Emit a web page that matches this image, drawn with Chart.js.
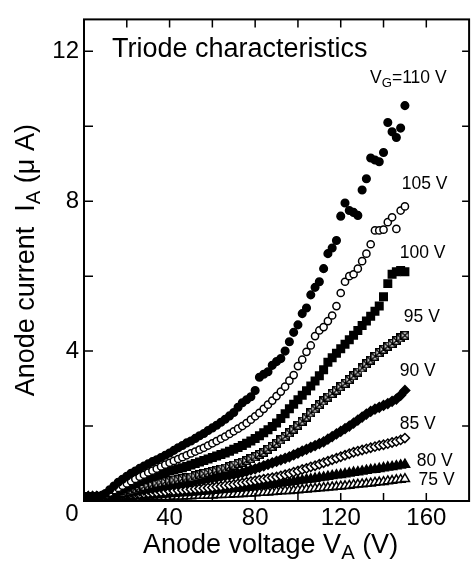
<!DOCTYPE html>
<html><head>
<meta charset="UTF-8">
<title>Triode characteristics</title>
<script src="https://cdn.jsdelivr.net/npm/chart.js@4"></script>
<style>
html, body { margin: 0; padding: 0; background: #fff; }
</style></head><body>
<canvas id="chart" width="476" height="564"></canvas>
<script>
// anode voltage V_A (V), shared by every grid-voltage curve
const anodeV = [2,4,6,8,10,12,14,16,18,20,22,24,26,28,30,32,34,36,38,40,42,44,46,48,50,52,54,56,58,60,62,64,66,68,70,72,74,76,78,80,82,84,86,88,90,92,94,96,98,100,102,104,106,108,110,112,114,116,118,120,122,124,126,128,130,132,134,136,138,140,142,144,146,148,150];

// anode current I_A (uA) per grid voltage
const ia110 = [0.12,0.12,0.13,0.14,0.2,0.3,0.4,0.5,0.58,0.66,0.74,0.8,0.87,0.93,0.99,1.05,1.1,1.16,1.22,1.28,1.35,1.42,1.48,1.55,1.6,1.67,1.74,1.8,1.88,1.95,2.02,2.1,2.18,2.27,2.36,2.5,2.62,2.7,2.78,2.95,3.3,3.38,3.45,3.62,3.72,3.8,4.0,4.25,4.5,4.7,5.0,5.15,5.5,5.7,5.85,6.2,6.6,6.75,6.95,7.6,7.95,7.75,7.7,7.62,8.3,8.6,9.15,9.1,9.05,9.3,10.1,9.85,9.7,9.95,10.55];
const ia105 = [0.12,0.12,0.12,0.13,0.16,0.22,0.29,0.35,0.41,0.47,0.53,0.59,0.65,0.7,0.76,0.81,0.86,0.92,0.97,1.02,1.07,1.12,1.17,1.22,1.27,1.32,1.37,1.42,1.48,1.54,1.6,1.66,1.72,1.79,1.86,1.93,2.0,2.08,2.17,2.26,2.35,2.46,2.57,2.68,2.8,2.92,3.05,3.21,3.36,3.6,3.77,3.98,4.15,4.4,4.55,4.64,4.8,4.95,5.2,5.55,5.85,6.0,6.05,6.2,6.4,6.6,6.85,7.22,7.22,7.24,7.44,7.57,7.26,7.75,7.86];
const ia100 = [0.12,0.12,0.12,0.12,0.14,0.18,0.22,0.27,0.32,0.37,0.42,0.47,0.52,0.57,0.61,0.65,0.69,0.73,0.77,0.8,0.83,0.86,0.89,0.92,0.96,1.0,1.04,1.08,1.12,1.16,1.2,1.24,1.28,1.33,1.38,1.43,1.48,1.54,1.6,1.67,1.74,1.82,1.9,1.99,2.08,2.2,2.33,2.46,2.58,2.7,2.82,2.94,3.07,3.2,3.34,3.5,3.7,3.82,3.94,4.06,4.18,4.3,4.42,4.55,4.68,4.8,4.93,5.06,5.2,5.45,5.8,6.05,6.12,6.15,6.12];
const ia95 = [0.12,0.12,0.12,0.12,0.13,0.15,0.18,0.21,0.24,0.27,0.3,0.33,0.36,0.39,0.42,0.45,0.48,0.5,0.52,0.54,0.56,0.58,0.6,0.62,0.64,0.67,0.7,0.73,0.76,0.79,0.82,0.85,0.88,0.92,0.96,1.0,1.04,1.08,1.13,1.18,1.24,1.3,1.38,1.46,1.54,1.63,1.72,1.82,1.92,2.02,2.13,2.24,2.35,2.46,2.57,2.67,2.77,2.87,2.96,3.05,3.14,3.24,3.34,3.44,3.55,3.66,3.76,3.86,3.96,4.05,4.13,4.2,4.28,4.35,4.42];
const ia90 = [0.12,0.12,0.12,0.12,0.12,0.13,0.15,0.17,0.19,0.21,0.23,0.25,0.27,0.29,0.31,0.33,0.35,0.37,0.39,0.41,0.43,0.45,0.47,0.49,0.51,0.53,0.55,0.57,0.59,0.61,0.63,0.65,0.67,0.69,0.71,0.73,0.76,0.79,0.83,0.86,0.9,0.94,0.98,1.02,1.06,1.1,1.14,1.18,1.23,1.28,1.33,1.38,1.43,1.48,1.53,1.58,1.65,1.72,1.79,1.86,1.93,2.0,2.08,2.16,2.24,2.32,2.39,2.45,2.5,2.55,2.6,2.66,2.72,2.82,2.95];
const ia85 = [0.12,0.12,0.12,0.12,0.12,0.12,0.13,0.14,0.15,0.16,0.17,0.18,0.19,0.2,0.21,0.22,0.23,0.24,0.25,0.26,0.27,0.28,0.29,0.3,0.31,0.32,0.33,0.34,0.35,0.36,0.38,0.39,0.41,0.42,0.44,0.46,0.48,0.5,0.52,0.54,0.56,0.58,0.6,0.62,0.64,0.67,0.7,0.73,0.77,0.8,0.84,0.87,0.91,0.94,0.98,1.02,1.06,1.1,1.14,1.18,1.22,1.26,1.3,1.33,1.36,1.39,1.42,1.45,1.48,1.5,1.53,1.56,1.59,1.63,1.68];
const ia80 = [0.1,0.1,0.1,0.1,0.1,0.1,0.1,0.11,0.11,0.12,0.12,0.13,0.13,0.14,0.15,0.15,0.16,0.17,0.18,0.19,0.2,0.21,0.22,0.22,0.23,0.24,0.25,0.26,0.27,0.28,0.29,0.3,0.31,0.32,0.33,0.34,0.35,0.36,0.37,0.39,0.4,0.41,0.43,0.44,0.46,0.47,0.49,0.5,0.52,0.54,0.55,0.57,0.58,0.6,0.62,0.63,0.65,0.67,0.69,0.7,0.72,0.74,0.76,0.77,0.79,0.81,0.83,0.84,0.86,0.88,0.9,0.91,0.93,0.95,0.97];
const ia75 = [0.08,0.08,0.08,0.08,0.08,0.08,0.08,0.08,0.08,0.09,0.09,0.09,0.09,0.1,0.1,0.1,0.1,0.11,0.11,0.11,0.12,0.12,0.12,0.13,0.13,0.14,0.14,0.14,0.15,0.15,0.16,0.16,0.17,0.17,0.18,0.18,0.19,0.2,0.2,0.21,0.22,0.22,0.23,0.24,0.25,0.26,0.27,0.27,0.28,0.29,0.3,0.31,0.32,0.33,0.34,0.35,0.36,0.37,0.38,0.39,0.4,0.41,0.43,0.44,0.45,0.46,0.47,0.49,0.5,0.51,0.53,0.54,0.56,0.57,0.59];

const gridVolts = ['110', '105', '100', '95', '90', '85', '80', '75'];
const currents = [ia110, ia105, ia100, ia95, ia90, ia85, ia80, ia75];

const xMajor = [40, 80, 120, 160];
const xMinor = [20, 60, 100, 140];
const yMajor = [4, 8, 12];
const yMinor = [2, 6, 10];

const FONT = "'Liberation Sans', Arial, Helvetica, sans-serif";

// open square with a cross inside
function crossBox(size) {
  const c = document.createElement('canvas');
  c.width = c.height = size;
  const g = c.getContext('2d');
  g.fillStyle = '#fff';
  g.fillRect(0, 0, size, size);
  g.strokeStyle = '#000';
  g.lineWidth = 1.5;
  g.strokeRect(0.75, 0.75, size - 1.5, size - 1.5);
  g.beginPath();
  g.moveTo(0, 0); g.lineTo(size, size);
  g.moveTo(size, 0); g.lineTo(0, size);
  g.stroke();
  return c;
}

const markers = [
  { style: 'circle', r: 3.8, fill: '#000' },
  { style: 'circle', r: 3.6, fill: '#fff' },
  { style: 'rect', r: 5.3, fill: '#000' },
  { style: crossBox(9), r: 4.5, fill: '#fff' },
  { style: 'rectRot', r: 4.8, fill: '#000' },
  { style: 'rectRot', r: 4.6, fill: '#fff' },
  { style: 'triangle', r: 5.4, fill: '#000' },
  { style: 'triangle', r: 5.2, fill: '#fff' }
];

// curve labels, anchored in data units (left edge, baseline)
const curveLabels = [
  { x: 133.7, y: 11.15, parts: [['V'], ['G', 1], ['=110 V']] },
  { x: 148.5, y: 8.33, parts: [['105 V']] },
  { x: 147.6, y: 6.48, parts: [['100 V']] },
  { x: 149.5, y: 4.78, parts: [['95 V']] },
  { x: 147.6, y: 3.34, parts: [['90 V']] },
  { x: 147.6, y: 1.91, parts: [['85 V']] },
  { x: 155.5, y: 0.94, parts: [['80 V']] },
  { x: 156.4, y: 0.42, parts: [['75 V']] }
];

function richWidth(ctx, parts, size) {
  let w = 0;
  for (const [t, sub] of parts) {
    ctx.font = (sub ? size * 0.75 : size) + 'px ' + FONT;
    w += ctx.measureText(t).width;
  }
  return w;
}

function drawRich(ctx, parts, x, y, size) {
  for (const [t, sub] of parts) {
    ctx.font = (sub ? size * 0.75 : size) + 'px ' + FONT;
    ctx.fillText(t, x, sub ? y + size * 0.22 : y);
    x += ctx.measureText(t).width;
  }
}

const decor = {
  id: 'decor',
  afterDraw(chart) {
    const { ctx, chartArea: a, scales: { x, y } } = chart;
    ctx.save();
    ctx.strokeStyle = '#000';
    ctx.lineWidth = 2;
    ctx.strokeRect(a.left, a.top, a.right - a.left, a.bottom - a.top);

    // inward ticks on all four sides
    ctx.lineWidth = 1.5;
    ctx.beginPath();
    for (const v of xMajor.concat(xMinor)) {
      const px = x.getPixelForValue(v);
      ctx.moveTo(px, a.bottom); ctx.lineTo(px, a.bottom - 8);
      ctx.moveTo(px, a.top); ctx.lineTo(px, a.top + 8);
    }
    for (const v of yMajor.concat(yMinor)) {
      const py = y.getPixelForValue(v);
      ctx.moveTo(a.left, py); ctx.lineTo(a.left + 9, py);
      ctx.moveTo(a.right, py); ctx.lineTo(a.right - 7, py);
    }
    ctx.stroke();

    ctx.fillStyle = '#000';

    // shared origin label
    ctx.font = '24px ' + FONT;
    ctx.textAlign = 'center';
    ctx.textBaseline = 'middle';
    ctx.fillText('0', x.getPixelForValue(0) - 12, y.getPixelForValue(0) + 13);
    ctx.textAlign = 'left';
    ctx.textBaseline = 'alphabetic';

    // plot title
    ctx.font = '27px ' + FONT;
    ctx.fillText('Triode characteristics', a.left + 28, a.top + 38);

    for (const lab of curveLabels) {
      drawRich(ctx, lab.parts, x.getPixelForValue(lab.x), y.getPixelForValue(lab.y), 17.5);
    }

    // axis titles
    const xt = [['Anode voltage V'], ['A', 1], [' (V)']];
    const xw = richWidth(ctx, xt, 27);
    drawRich(ctx, xt, (a.left + a.right) / 2 - xw / 2 - 6, a.bottom + 52, 27);

    const yt = [['Anode current  I'], ['A', 1], [' (\u03bc A)']];
    const yw = richWidth(ctx, yt, 27);
    ctx.translate(34, (a.top + a.bottom) / 2);
    ctx.rotate(-Math.PI / 2);
    drawRich(ctx, yt, -yw / 2, 0, 27);
    ctx.restore();
  }
};

new Chart(document.getElementById('chart'), {
  type: 'scatter',
  data: {
    datasets: gridVolts.map((g, i) => ({
      label: 'VG=' + g + ' V',
      data: anodeV.map((v, k) => ({ x: v, y: currents[i][k] })),
      pointStyle: markers[i].style,
      pointRadius: markers[i].r,
      pointBackgroundColor: markers[i].fill,
      pointBorderColor: '#000',
      pointBorderWidth: 1.5,
      showLine: false
    }))
  },
  options: {
    responsive: false,
    animation: false,
    layout: { padding: { top: 9, right: 3, left: 0, bottom: 0 } },
    plugins: { legend: { display: false }, tooltip: { enabled: false } },
    scales: {
      x: {
        type: 'linear', min: 0, max: 180,
        afterFit: s => { s.height = 63; },
        afterBuildTicks: s => { s.ticks = xMajor.map(v => ({ value: v })); },
        grid: { display: false, drawTicks: false },
        border: { display: false },
        ticks: { color: '#000', padding: 3, maxRotation: 0, font: { family: FONT, size: 24 } }
      },
      y: {
        type: 'linear', min: 0, max: 12.85,
        afterFit: s => { s.width = 84; },
        afterBuildTicks: s => { s.ticks = yMajor.map(v => ({ value: v })); },
        grid: { display: false, drawTicks: false },
        border: { display: false },
        ticks: { color: '#000', padding: 5, font: { family: FONT, size: 24 } }
      }
    }
  },
  plugins: [decor]
});
</script>
</body></html>
